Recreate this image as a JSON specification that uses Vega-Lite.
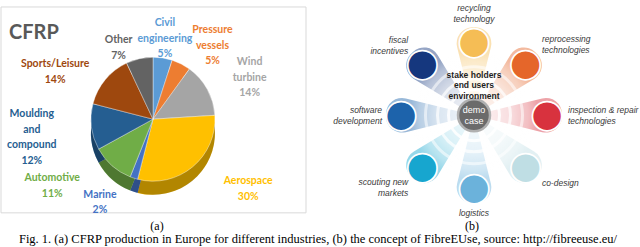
{
  "$schema": "https://vega.github.io/schema/vega-lite/v6.json",
  "width": 640,
  "height": 247,
  "autosize": {"type": "fit", "contains": "padding"},
  "padding": 0,
  "config": {"view": {"stroke": null}},
  "datasets": {
    "pie": [
      {"industry": "Civil engineering", "share": 5, "rank": 1, "lines": ["Civil", "engineering", "5%"]},
      {"industry": "Pressure vessels", "share": 5, "rank": 2, "lines": ["Pressure", "vessels", "5%"]},
      {"industry": "Wind turbine", "share": 14, "rank": 3, "lines": ["Wind", "turbine", "14%"]},
      {"industry": "Aerospace", "share": 30, "rank": 4, "lines": ["Aerospace", "30%"]},
      {"industry": "Marine", "share": 2, "rank": 5, "lines": ["Marine", "2%"]},
      {"industry": "Automotive", "share": 11, "rank": 6, "lines": ["Automotive", "11%"]},
      {"industry": "Moulding and compound", "share": 12, "rank": 7, "lines": ["Moulding", "and", "compound", "12%"]},
      {"industry": "Sports/Leisure", "share": 14, "rank": 8, "lines": ["Sports/Leisure", "14%"]},
      {"industry": "Other", "share": 7, "rank": 9, "lines": ["Other", "7%"]}
    ],
    "fibre": [
      {"item": "recycling technology", "rank": 1, "lines": ["recycling", "technology"]},
      {"item": "reprocessing technologies", "rank": 2, "lines": ["reprocessing", "technologies"]},
      {"item": "inspection & repair technologies", "rank": 3, "lines": ["inspection & repair", "technologies"]},
      {"item": "co-design", "rank": 4, "lines": ["co-design"]},
      {"item": "logistics", "rank": 5, "lines": ["logistics"]},
      {"item": "scouting new markets", "rank": 6, "lines": ["scouting new", "markets"]},
      {"item": "software development", "rank": 7, "lines": ["software", "development"]},
      {"item": "fiscal incentives", "rank": 8, "lines": ["fiscal", "incentives"]}
    ]
  },
  "resolve": {"scale": {"theta": "independent", "color": "independent", "fill": "independent", "stroke": "independent"}},
  "layer": [
    {
      "data": {"values": [{}]},
      "mark": {"type": "rect", "fill": "white", "fillOpacity": 0, "stroke": "#d9d9d9", "strokeWidth": 1},
      "encoding": {
        "x": {"datum": 1, "type": "quantitative", "scale": {"domain": [0, 640], "nice": false, "zero": false}, "axis": null},
        "x2": {"datum": 306},
        "y": {"datum": 1, "type": "quantitative", "scale": {"domain": [0, 247], "nice": false, "zero": false, "reverse": true}, "axis": null},
        "y2": {"datum": 212}
      }
    },
    {
      "data": {"values": [{}]},
      "mark": {"type": "text", "text": "CFRP", "font": "Lato", "fontWeight": "bold", "fontSize": 20, "color": "#595959", "align": "left", "baseline": "middle"},
      "encoding": {
        "x": {"datum": 9, "type": "quantitative", "scale": {"domain": [0, 640], "nice": false, "zero": false}, "axis": null},
        "y": {"datum": 28, "type": "quantitative", "scale": {"domain": [0, 247], "nice": false, "zero": false, "reverse": true}, "axis": null}
      }
    },
    {
      "data": {"name": "pie"},
      "mark": {"type": "arc", "outerRadius": 62},
      "encoding": {
        "x": {"datum": 153, "type": "quantitative", "scale": {"domain": [0, 640], "nice": false, "zero": false}, "axis": null},
        "y": {"datum": 130, "type": "quantitative", "scale": {"domain": [0, 247], "nice": false, "zero": false, "reverse": true}, "axis": null},
        "theta": {"field": "share", "type": "quantitative", "stack": true},
        "order": {"field": "rank", "type": "quantitative"},
        "color": {"field": "industry", "type": "nominal", "legend": null, "scale": {"domain": ["Civil engineering", "Pressure vessels", "Wind turbine", "Aerospace", "Marine", "Automotive", "Moulding and compound", "Sports/Leisure", "Other"], "range": ["#5B9BD5", "#ED7D31", "#A5A5A5", "#FFC000", "#4472C4", "#70AD47", "#255E91", "#9E480E", "#636363"]}}
      }
    },
    {
      "data": {"values": [{}]},
      "mark": {"type": "arc", "outerRadius": 62, "theta": 0, "theta2": 6.2832, "color": "black", "fillOpacity": 0.3},
      "encoding": {
        "x": {"datum": 153, "type": "quantitative", "scale": {"domain": [0, 640], "nice": false, "zero": false}, "axis": null},
        "y": {"datum": 130, "type": "quantitative", "scale": {"domain": [0, 247], "nice": false, "zero": false, "reverse": true}, "axis": null}
      }
    },
    {
      "data": {"name": "pie"},
      "mark": {"type": "arc", "outerRadius": 62, "stroke": "white", "strokeWidth": 0.4},
      "encoding": {
        "x": {"datum": 153, "type": "quantitative", "scale": {"domain": [0, 640], "nice": false, "zero": false}, "axis": null},
        "y": {"datum": 116, "type": "quantitative", "scale": {"domain": [0, 247], "nice": false, "zero": false, "reverse": true}, "axis": null},
        "theta": {"field": "share", "type": "quantitative", "stack": true},
        "order": {"field": "rank", "type": "quantitative"},
        "color": {"field": "industry", "type": "nominal", "legend": null, "scale": {"domain": ["Civil engineering", "Pressure vessels", "Wind turbine", "Aerospace", "Marine", "Automotive", "Moulding and compound", "Sports/Leisure", "Other"], "range": ["#5B9BD5", "#ED7D31", "#A5A5A5", "#FFC000", "#4472C4", "#70AD47", "#255E91", "#9E480E", "#636363"]}}
      }
    },
    {
      "data": {"name": "pie"},
      "mark": {"type": "text", "radius": 76, "dx": 0, "dy": -15, "font": "Lato", "fontWeight": "bold", "fontSize": 10.5, "lineHeight": 15.5, "align": "center", "baseline": "middle"},
      "encoding": {
        "x": {"datum": 153, "type": "quantitative", "scale": {"domain": [0, 640], "nice": false, "zero": false}, "axis": null},
        "y": {"datum": 110, "type": "quantitative", "scale": {"domain": [0, 247], "nice": false, "zero": false, "reverse": true}, "axis": null},
        "theta": {"field": "share", "type": "quantitative", "stack": true},
        "order": {"field": "rank", "type": "quantitative"},
        "color": {"field": "industry", "type": "nominal", "legend": null, "scale": {"domain": ["Civil engineering", "Pressure vessels", "Wind turbine", "Aerospace", "Marine", "Automotive", "Moulding and compound", "Sports/Leisure", "Other"], "range": ["#5B9BD5", "#ED7D31", "#A5A5A5", "#FFC000", "#4472C4", "#70AD47", "#255E91", "#9E480E", "#636363"]}},
        "text": {"condition": {"test": "datum.rank == 1", "field": "lines", "type": "nominal"}, "value": ""}
      }
    },
    {
      "data": {"name": "pie"},
      "mark": {"type": "text", "radius": 76, "dx": 25, "dy": -15.5, "font": "Lato", "fontWeight": "bold", "fontSize": 10.5, "lineHeight": 15.5, "align": "center", "baseline": "middle"},
      "encoding": {
        "x": {"datum": 153, "type": "quantitative", "scale": {"domain": [0, 640], "nice": false, "zero": false}, "axis": null},
        "y": {"datum": 110, "type": "quantitative", "scale": {"domain": [0, 247], "nice": false, "zero": false, "reverse": true}, "axis": null},
        "theta": {"field": "share", "type": "quantitative", "stack": true},
        "order": {"field": "rank", "type": "quantitative"},
        "color": {"field": "industry", "type": "nominal", "legend": null, "scale": {"domain": ["Civil engineering", "Pressure vessels", "Wind turbine", "Aerospace", "Marine", "Automotive", "Moulding and compound", "Sports/Leisure", "Other"], "range": ["#5B9BD5", "#ED7D31", "#A5A5A5", "#FFC000", "#4472C4", "#70AD47", "#255E91", "#9E480E", "#636363"]}},
        "text": {"condition": {"test": "datum.rank == 2", "field": "lines", "type": "nominal"}, "value": ""}
      }
    },
    {
      "data": {"name": "pie"},
      "mark": {"type": "text", "radius": 76, "dx": 30, "dy": -14.5, "font": "Lato", "fontWeight": "bold", "fontSize": 10.5, "lineHeight": 15.5, "align": "center", "baseline": "middle"},
      "encoding": {
        "x": {"datum": 153, "type": "quantitative", "scale": {"domain": [0, 640], "nice": false, "zero": false}, "axis": null},
        "y": {"datum": 110, "type": "quantitative", "scale": {"domain": [0, 247], "nice": false, "zero": false, "reverse": true}, "axis": null},
        "theta": {"field": "share", "type": "quantitative", "stack": true},
        "order": {"field": "rank", "type": "quantitative"},
        "color": {"field": "industry", "type": "nominal", "legend": null, "scale": {"domain": ["Civil engineering", "Pressure vessels", "Wind turbine", "Aerospace", "Marine", "Automotive", "Moulding and compound", "Sports/Leisure", "Other"], "range": ["#5B9BD5", "#ED7D31", "#A5A5A5", "#FFC000", "#4472C4", "#70AD47", "#255E91", "#9E480E", "#636363"]}},
        "text": {"condition": {"test": "datum.rank == 3", "field": "lines", "type": "nominal"}, "value": ""}
      }
    },
    {
      "data": {"name": "pie"},
      "mark": {"type": "text", "radius": 96, "dx": 34, "dy": -6, "font": "Lato", "fontWeight": "bold", "fontSize": 10.5, "lineHeight": 15.5, "align": "center", "baseline": "middle"},
      "encoding": {
        "x": {"datum": 153, "type": "quantitative", "scale": {"domain": [0, 640], "nice": false, "zero": false}, "axis": null},
        "y": {"datum": 110, "type": "quantitative", "scale": {"domain": [0, 247], "nice": false, "zero": false, "reverse": true}, "axis": null},
        "theta": {"field": "share", "type": "quantitative", "stack": true},
        "order": {"field": "rank", "type": "quantitative"},
        "color": {"field": "industry", "type": "nominal", "legend": null, "scale": {"domain": ["Civil engineering", "Pressure vessels", "Wind turbine", "Aerospace", "Marine", "Automotive", "Moulding and compound", "Sports/Leisure", "Other"], "range": ["#5B9BD5", "#ED7D31", "#A5A5A5", "#FFC000", "#4472C4", "#70AD47", "#255E91", "#9E480E", "#636363"]}},
        "text": {"condition": {"test": "datum.rank == 4", "field": "lines", "type": "nominal"}, "value": ""}
      }
    },
    {
      "data": {"name": "pie"},
      "mark": {"type": "text", "radius": 94, "dx": -24, "dy": -8, "font": "Lato", "fontWeight": "bold", "fontSize": 10.5, "lineHeight": 15.5, "align": "center", "baseline": "middle"},
      "encoding": {
        "x": {"datum": 153, "type": "quantitative", "scale": {"domain": [0, 640], "nice": false, "zero": false}, "axis": null},
        "y": {"datum": 110, "type": "quantitative", "scale": {"domain": [0, 247], "nice": false, "zero": false, "reverse": true}, "axis": null},
        "theta": {"field": "share", "type": "quantitative", "stack": true},
        "order": {"field": "rank", "type": "quantitative"},
        "color": {"field": "industry", "type": "nominal", "legend": null, "scale": {"domain": ["Civil engineering", "Pressure vessels", "Wind turbine", "Aerospace", "Marine", "Automotive", "Moulding and compound", "Sports/Leisure", "Other"], "range": ["#5B9BD5", "#ED7D31", "#A5A5A5", "#FFC000", "#4472C4", "#70AD47", "#255E91", "#9E480E", "#636363"]}},
        "text": {"condition": {"test": "datum.rank == 5", "field": "lines", "type": "nominal"}, "value": ""}
      }
    },
    {
      "data": {"name": "pie"},
      "mark": {"type": "text", "radius": 98, "dx": -36, "dy": -8.5, "font": "Lato", "fontWeight": "bold", "fontSize": 10.5, "lineHeight": 15.5, "align": "center", "baseline": "middle"},
      "encoding": {
        "x": {"datum": 153, "type": "quantitative", "scale": {"domain": [0, 640], "nice": false, "zero": false}, "axis": null},
        "y": {"datum": 110, "type": "quantitative", "scale": {"domain": [0, 247], "nice": false, "zero": false, "reverse": true}, "axis": null},
        "theta": {"field": "share", "type": "quantitative", "stack": true},
        "order": {"field": "rank", "type": "quantitative"},
        "color": {"field": "industry", "type": "nominal", "legend": null, "scale": {"domain": ["Civil engineering", "Pressure vessels", "Wind turbine", "Aerospace", "Marine", "Automotive", "Moulding and compound", "Sports/Leisure", "Other"], "range": ["#5B9BD5", "#ED7D31", "#A5A5A5", "#FFC000", "#4472C4", "#70AD47", "#255E91", "#9E480E", "#636363"]}},
        "text": {"condition": {"test": "datum.rank == 6", "field": "lines", "type": "nominal"}, "value": ""}
      }
    },
    {
      "data": {"name": "pie"},
      "mark": {"type": "text", "radius": 100, "dx": -22, "dy": -11.5, "font": "Lato", "fontWeight": "bold", "fontSize": 10.5, "lineHeight": 15.5, "align": "center", "baseline": "middle"},
      "encoding": {
        "x": {"datum": 153, "type": "quantitative", "scale": {"domain": [0, 640], "nice": false, "zero": false}, "axis": null},
        "y": {"datum": 110, "type": "quantitative", "scale": {"domain": [0, 247], "nice": false, "zero": false, "reverse": true}, "axis": null},
        "theta": {"field": "share", "type": "quantitative", "stack": true},
        "order": {"field": "rank", "type": "quantitative"},
        "color": {"field": "industry", "type": "nominal", "legend": null, "scale": {"domain": ["Civil engineering", "Pressure vessels", "Wind turbine", "Aerospace", "Marine", "Automotive", "Moulding and compound", "Sports/Leisure", "Other"], "range": ["#5B9BD5", "#ED7D31", "#A5A5A5", "#FFC000", "#4472C4", "#70AD47", "#255E91", "#9E480E", "#636363"]}},
        "text": {"condition": {"test": "datum.rank == 7", "field": "lines", "type": "nominal"}, "value": ""}
      }
    },
    {
      "data": {"name": "pie"},
      "mark": {"type": "text", "radius": 66, "dx": -47, "dy": -7, "font": "Lato", "fontWeight": "bold", "fontSize": 10.5, "lineHeight": 15.5, "align": "center", "baseline": "middle"},
      "encoding": {
        "x": {"datum": 153, "type": "quantitative", "scale": {"domain": [0, 640], "nice": false, "zero": false}, "axis": null},
        "y": {"datum": 110, "type": "quantitative", "scale": {"domain": [0, 247], "nice": false, "zero": false, "reverse": true}, "axis": null},
        "theta": {"field": "share", "type": "quantitative", "stack": true},
        "order": {"field": "rank", "type": "quantitative"},
        "color": {"field": "industry", "type": "nominal", "legend": null, "scale": {"domain": ["Civil engineering", "Pressure vessels", "Wind turbine", "Aerospace", "Marine", "Automotive", "Moulding and compound", "Sports/Leisure", "Other"], "range": ["#5B9BD5", "#ED7D31", "#A5A5A5", "#FFC000", "#4472C4", "#70AD47", "#255E91", "#9E480E", "#636363"]}},
        "text": {"condition": {"test": "datum.rank == 8", "field": "lines", "type": "nominal"}, "value": ""}
      }
    },
    {
      "data": {"name": "pie"},
      "mark": {"type": "text", "radius": 66, "dx": -20, "dy": -8.5, "font": "Lato", "fontWeight": "bold", "fontSize": 10.5, "lineHeight": 15.5, "align": "center", "baseline": "middle"},
      "encoding": {
        "x": {"datum": 153, "type": "quantitative", "scale": {"domain": [0, 640], "nice": false, "zero": false}, "axis": null},
        "y": {"datum": 110, "type": "quantitative", "scale": {"domain": [0, 247], "nice": false, "zero": false, "reverse": true}, "axis": null},
        "theta": {"field": "share", "type": "quantitative", "stack": true},
        "order": {"field": "rank", "type": "quantitative"},
        "color": {"field": "industry", "type": "nominal", "legend": null, "scale": {"domain": ["Civil engineering", "Pressure vessels", "Wind turbine", "Aerospace", "Marine", "Automotive", "Moulding and compound", "Sports/Leisure", "Other"], "range": ["#5B9BD5", "#ED7D31", "#A5A5A5", "#FFC000", "#4472C4", "#70AD47", "#255E91", "#9E480E", "#636363"]}},
        "text": {"condition": {"test": "datum.rank == 9", "field": "lines", "type": "nominal"}, "value": ""}
      }
    },
    {
      "data": {"name": "fibre"},
      "mark": {"type": "arc", "outerRadius": 88, "innerRadius": 0, "padAngle": 0.3, "cornerRadius": 16, "fillOpacity": 0.45},
      "encoding": {
        "x": {"datum": 474, "type": "quantitative", "scale": {"domain": [0, 640], "nice": false, "zero": false}, "axis": null},
        "y": {"datum": 112, "type": "quantitative", "scale": {"domain": [0, 247], "nice": false, "zero": false, "reverse": true}, "axis": null},
        "theta": {"aggregate": "count", "type": "quantitative", "stack": true, "scale": {"range": [-0.3927, 5.8905]}},
        "order": {"field": "rank", "type": "quantitative"},
        "color": {"field": "item", "type": "nominal", "legend": null, "scale": {"domain": ["recycling technology", "reprocessing technologies", "inspection & repair technologies", "co-design", "logistics", "scouting new markets", "software development", "fiscal incentives"], "range": ["#F5BD55", "#E5662A", "#D8323E", "#BFDEE4", "#6BB2DB", "#17A6CF", "#1D63AB", "#15377E"]}}
      }
    },
    {
      "data": {"values": [{}]},
      "mark": {"type": "arc", "outerRadius": 64, "theta": 0, "theta2": 6.2832, "fill": {"gradient": "radial", "stops": [{"offset": 0, "color": "rgba(255,255,255,0.9)"}, {"offset": 0.55, "color": "rgba(255,255,255,0.65)"}, {"offset": 0.85, "color": "rgba(255,255,255,0.3)"}, {"offset": 1, "color": "rgba(255,255,255,0)"}]}},
      "encoding": {
        "x": {"datum": 474, "type": "quantitative", "scale": {"domain": [0, 640], "nice": false, "zero": false}, "axis": null},
        "y": {"datum": 112, "type": "quantitative", "scale": {"domain": [0, 247], "nice": false, "zero": false, "reverse": true}, "axis": null}
      }
    },
    {
      "data": {"values": [{}]},
      "mark": {"type": "arc", "innerRadius": 24, "outerRadius": 27, "theta": 0, "theta2": 6.2832, "color": "white", "fillOpacity": 0.85},
      "encoding": {
        "x": {"datum": 474, "type": "quantitative", "scale": {"domain": [0, 640], "nice": false, "zero": false}, "axis": null},
        "y": {"datum": 112, "type": "quantitative", "scale": {"domain": [0, 247], "nice": false, "zero": false, "reverse": true}, "axis": null}
      }
    },
    {
      "data": {"values": [{}]},
      "mark": {"type": "arc", "innerRadius": 35, "outerRadius": 38, "theta": 0, "theta2": 6.2832, "color": "white", "fillOpacity": 0.7},
      "encoding": {
        "x": {"datum": 474, "type": "quantitative", "scale": {"domain": [0, 640], "nice": false, "zero": false}, "axis": null},
        "y": {"datum": 112, "type": "quantitative", "scale": {"domain": [0, 247], "nice": false, "zero": false, "reverse": true}, "axis": null}
      }
    },
    {
      "data": {"values": [{}]},
      "mark": {"type": "arc", "innerRadius": 47, "outerRadius": 50, "theta": 0, "theta2": 6.2832, "color": "white", "fillOpacity": 0.55},
      "encoding": {
        "x": {"datum": 474, "type": "quantitative", "scale": {"domain": [0, 640], "nice": false, "zero": false}, "axis": null},
        "y": {"datum": 112, "type": "quantitative", "scale": {"domain": [0, 247], "nice": false, "zero": false, "reverse": true}, "axis": null}
      }
    },
    {
      "data": {"name": "fibre"},
      "mark": {"type": "text", "text": "●", "radius": 73, "font": "DejaVu Sans", "fontSize": 26, "align": "center", "baseline": "middle", "fill": "white", "stroke": "white", "strokeWidth": 11},
      "encoding": {
        "x": {"datum": 474, "type": "quantitative", "scale": {"domain": [0, 640], "nice": false, "zero": false}, "axis": null},
        "y": {"datum": 112, "type": "quantitative", "scale": {"domain": [0, 247], "nice": false, "zero": false, "reverse": true}, "axis": null},
        "theta": {"aggregate": "count", "type": "quantitative", "stack": true, "scale": {"range": [-0.3927, 5.8905]}},
        "order": {"field": "rank", "type": "quantitative"}
      }
    },
    {
      "data": {"name": "fibre"},
      "mark": {"type": "text", "text": "●", "radius": 73, "font": "DejaVu Sans", "fontSize": 26, "align": "center", "baseline": "middle", "strokeWidth": 7.5},
      "encoding": {
        "x": {"datum": 474, "type": "quantitative", "scale": {"domain": [0, 640], "nice": false, "zero": false}, "axis": null},
        "y": {"datum": 112, "type": "quantitative", "scale": {"domain": [0, 247], "nice": false, "zero": false, "reverse": true}, "axis": null},
        "theta": {"aggregate": "count", "type": "quantitative", "stack": true, "scale": {"range": [-0.3927, 5.8905]}},
        "order": {"field": "rank", "type": "quantitative"},
        "fill": {"field": "item", "type": "nominal", "legend": null, "scale": {"domain": ["recycling technology", "reprocessing technologies", "inspection & repair technologies", "co-design", "logistics", "scouting new markets", "software development", "fiscal incentives"], "range": ["#F5BD55", "#E5662A", "#D8323E", "#BFDEE4", "#6BB2DB", "#17A6CF", "#1D63AB", "#15377E"]}},
        "stroke": {"field": "item", "type": "nominal", "legend": null, "scale": {"domain": ["recycling technology", "reprocessing technologies", "inspection & repair technologies", "co-design", "logistics", "scouting new markets", "software development", "fiscal incentives"], "range": ["#F5BD55", "#E5662A", "#D8323E", "#BFDEE4", "#6BB2DB", "#17A6CF", "#1D63AB", "#15377E"]}}
      }
    },
    {
      "data": {"values": [{}]},
      "mark": {"type": "arc", "outerRadius": 16, "theta": 0, "theta2": 6.2832, "color": "#6b6b6b", "stroke": "#b0b0b0", "strokeWidth": 2.5},
      "encoding": {
        "x": {"datum": 474, "type": "quantitative", "scale": {"domain": [0, 640], "nice": false, "zero": false}, "axis": null},
        "y": {"datum": 112, "type": "quantitative", "scale": {"domain": [0, 247], "nice": false, "zero": false, "reverse": true}, "axis": null}
      }
    },
    {
      "data": {"values": [{}]},
      "mark": {"type": "text", "text": ["demo", "case"], "font": "Liberation Sans", "fontSize": 9, "lineHeight": 10.5, "color": "white", "align": "center", "baseline": "middle"},
      "encoding": {
        "x": {"datum": 474, "type": "quantitative", "scale": {"domain": [0, 640], "nice": false, "zero": false}, "axis": null},
        "y": {"datum": 107, "type": "quantitative", "scale": {"domain": [0, 247], "nice": false, "zero": false, "reverse": true}, "axis": null}
      }
    },
    {
      "data": {"values": [{}]},
      "mark": {"type": "text", "text": "stake holders", "font": "Liberation Sans", "fontWeight": "bold", "fontSize": 8.5, "color": "#1e1e1e", "align": "center", "baseline": "middle"},
      "encoding": {
        "x": {"datum": 474, "type": "quantitative", "scale": {"domain": [0, 640], "nice": false, "zero": false}, "axis": null},
        "y": {"datum": 71, "type": "quantitative", "scale": {"domain": [0, 247], "nice": false, "zero": false, "reverse": true}, "axis": null}
      }
    },
    {
      "data": {"values": [{}]},
      "mark": {"type": "text", "text": "end users", "font": "Liberation Sans", "fontWeight": "bold", "fontSize": 8.5, "color": "#1e1e1e", "align": "center", "baseline": "middle"},
      "encoding": {
        "x": {"datum": 474, "type": "quantitative", "scale": {"domain": [0, 640], "nice": false, "zero": false}, "axis": null},
        "y": {"datum": 81, "type": "quantitative", "scale": {"domain": [0, 247], "nice": false, "zero": false, "reverse": true}, "axis": null}
      }
    },
    {
      "data": {"values": [{}]},
      "mark": {"type": "text", "text": "environment", "font": "Liberation Sans", "fontWeight": "bold", "fontSize": 8.5, "color": "#1e1e1e", "align": "center", "baseline": "middle"},
      "encoding": {
        "x": {"datum": 474, "type": "quantitative", "scale": {"domain": [0, 640], "nice": false, "zero": false}, "axis": null},
        "y": {"datum": 92, "type": "quantitative", "scale": {"domain": [0, 247], "nice": false, "zero": false, "reverse": true}, "axis": null}
      }
    },
    {
      "data": {"name": "fibre"},
      "mark": {"type": "text", "radius": 100, "dy": -7, "font": "Liberation Sans", "fontStyle": "italic", "fontSize": 8.5, "lineHeight": 10.5, "color": "#3a3a3a", "align": "center", "baseline": "middle"},
      "encoding": {
        "x": {"datum": 474, "type": "quantitative", "scale": {"domain": [0, 640], "nice": false, "zero": false}, "axis": null},
        "y": {"datum": 112, "type": "quantitative", "scale": {"domain": [0, 247], "nice": false, "zero": false, "reverse": true}, "axis": null},
        "theta": {"aggregate": "count", "type": "quantitative", "stack": true, "scale": {"range": [-0.3927, 5.8905]}},
        "order": {"field": "rank", "type": "quantitative"},
        "text": {"condition": {"test": "datum.rank == 1", "field": "lines", "type": "nominal"}, "value": ""}
      }
    },
    {
      "data": {"name": "fibre"},
      "mark": {"type": "text", "radius": 96, "dy": -8, "font": "Liberation Sans", "fontStyle": "italic", "fontSize": 8.5, "lineHeight": 10.5, "color": "#3a3a3a", "align": "left", "baseline": "middle"},
      "encoding": {
        "x": {"datum": 474, "type": "quantitative", "scale": {"domain": [0, 640], "nice": false, "zero": false}, "axis": null},
        "y": {"datum": 112, "type": "quantitative", "scale": {"domain": [0, 247], "nice": false, "zero": false, "reverse": true}, "axis": null},
        "theta": {"aggregate": "count", "type": "quantitative", "stack": true, "scale": {"range": [-0.3927, 5.8905]}},
        "order": {"field": "rank", "type": "quantitative"},
        "text": {"condition": {"test": "datum.rank == 2", "field": "lines", "type": "nominal"}, "value": ""}
      }
    },
    {
      "data": {"name": "fibre"},
      "mark": {"type": "text", "radius": 94, "dy": -5.25, "font": "Liberation Sans", "fontStyle": "italic", "fontSize": 8.5, "lineHeight": 10.5, "color": "#3a3a3a", "align": "left", "baseline": "middle"},
      "encoding": {
        "x": {"datum": 474, "type": "quantitative", "scale": {"domain": [0, 640], "nice": false, "zero": false}, "axis": null},
        "y": {"datum": 112, "type": "quantitative", "scale": {"domain": [0, 247], "nice": false, "zero": false, "reverse": true}, "axis": null},
        "theta": {"aggregate": "count", "type": "quantitative", "stack": true, "scale": {"range": [-0.3927, 5.8905]}},
        "order": {"field": "rank", "type": "quantitative"},
        "text": {"condition": {"test": "datum.rank == 3", "field": "lines", "type": "nominal"}, "value": ""}
      }
    },
    {
      "data": {"name": "fibre"},
      "mark": {"type": "text", "radius": 96, "dy": 0, "font": "Liberation Sans", "fontStyle": "italic", "fontSize": 8.5, "lineHeight": 10.5, "color": "#3a3a3a", "align": "left", "baseline": "middle"},
      "encoding": {
        "x": {"datum": 474, "type": "quantitative", "scale": {"domain": [0, 640], "nice": false, "zero": false}, "axis": null},
        "y": {"datum": 112, "type": "quantitative", "scale": {"domain": [0, 247], "nice": false, "zero": false, "reverse": true}, "axis": null},
        "theta": {"aggregate": "count", "type": "quantitative", "stack": true, "scale": {"range": [-0.3927, 5.8905]}},
        "order": {"field": "rank", "type": "quantitative"},
        "text": {"condition": {"test": "datum.rank == 4", "field": "lines", "type": "nominal"}, "value": ""}
      }
    },
    {
      "data": {"name": "fibre"},
      "mark": {"type": "text", "radius": 98, "dy": 0, "font": "Liberation Sans", "fontStyle": "italic", "fontSize": 8.5, "lineHeight": 10.5, "color": "#3a3a3a", "align": "center", "baseline": "middle"},
      "encoding": {
        "x": {"datum": 474, "type": "quantitative", "scale": {"domain": [0, 640], "nice": false, "zero": false}, "axis": null},
        "y": {"datum": 112, "type": "quantitative", "scale": {"domain": [0, 247], "nice": false, "zero": false, "reverse": true}, "axis": null},
        "theta": {"aggregate": "count", "type": "quantitative", "stack": true, "scale": {"range": [-0.3927, 5.8905]}},
        "order": {"field": "rank", "type": "quantitative"},
        "text": {"condition": {"test": "datum.rank == 5", "field": "lines", "type": "nominal"}, "value": ""}
      }
    },
    {
      "data": {"name": "fibre"},
      "mark": {"type": "text", "radius": 93, "dy": 1, "font": "Liberation Sans", "fontStyle": "italic", "fontSize": 8.5, "lineHeight": 10.5, "color": "#3a3a3a", "align": "right", "baseline": "middle"},
      "encoding": {
        "x": {"datum": 474, "type": "quantitative", "scale": {"domain": [0, 640], "nice": false, "zero": false}, "axis": null},
        "y": {"datum": 112, "type": "quantitative", "scale": {"domain": [0, 247], "nice": false, "zero": false, "reverse": true}, "axis": null},
        "theta": {"aggregate": "count", "type": "quantitative", "stack": true, "scale": {"range": [-0.3927, 5.8905]}},
        "order": {"field": "rank", "type": "quantitative"},
        "text": {"condition": {"test": "datum.rank == 6", "field": "lines", "type": "nominal"}, "value": ""}
      }
    },
    {
      "data": {"name": "fibre"},
      "mark": {"type": "text", "radius": 92, "dy": -5.25, "font": "Liberation Sans", "fontStyle": "italic", "fontSize": 8.5, "lineHeight": 10.5, "color": "#3a3a3a", "align": "right", "baseline": "middle"},
      "encoding": {
        "x": {"datum": 474, "type": "quantitative", "scale": {"domain": [0, 640], "nice": false, "zero": false}, "axis": null},
        "y": {"datum": 112, "type": "quantitative", "scale": {"domain": [0, 247], "nice": false, "zero": false, "reverse": true}, "axis": null},
        "theta": {"aggregate": "count", "type": "quantitative", "stack": true, "scale": {"range": [-0.3927, 5.8905]}},
        "order": {"field": "rank", "type": "quantitative"},
        "text": {"condition": {"test": "datum.rank == 7", "field": "lines", "type": "nominal"}, "value": ""}
      }
    },
    {
      "data": {"name": "fibre"},
      "mark": {"type": "text", "radius": 93, "dy": -9.5, "font": "Liberation Sans", "fontStyle": "italic", "fontSize": 8.5, "lineHeight": 10.5, "color": "#3a3a3a", "align": "right", "baseline": "middle"},
      "encoding": {
        "x": {"datum": 474, "type": "quantitative", "scale": {"domain": [0, 640], "nice": false, "zero": false}, "axis": null},
        "y": {"datum": 112, "type": "quantitative", "scale": {"domain": [0, 247], "nice": false, "zero": false, "reverse": true}, "axis": null},
        "theta": {"aggregate": "count", "type": "quantitative", "stack": true, "scale": {"range": [-0.3927, 5.8905]}},
        "order": {"field": "rank", "type": "quantitative"},
        "text": {"condition": {"test": "datum.rank == 8", "field": "lines", "type": "nominal"}, "value": ""}
      }
    },
    {
      "data": {"values": [{}]},
      "mark": {"type": "text", "text": "(a)", "font": "Liberation Serif", "fontSize": 12, "color": "black", "align": "center", "baseline": "middle"},
      "encoding": {
        "x": {"datum": 157, "type": "quantitative", "scale": {"domain": [0, 640], "nice": false, "zero": false}, "axis": null},
        "y": {"datum": 225, "type": "quantitative", "scale": {"domain": [0, 247], "nice": false, "zero": false, "reverse": true}, "axis": null}
      }
    },
    {
      "data": {"values": [{}]},
      "mark": {"type": "text", "text": "(b)", "font": "Liberation Serif", "fontSize": 12, "color": "black", "align": "center", "baseline": "middle"},
      "encoding": {
        "x": {"datum": 472, "type": "quantitative", "scale": {"domain": [0, 640], "nice": false, "zero": false}, "axis": null},
        "y": {"datum": 225, "type": "quantitative", "scale": {"domain": [0, 247], "nice": false, "zero": false, "reverse": true}, "axis": null}
      }
    },
    {
      "data": {"values": [{}]},
      "mark": {"type": "text", "text": "Fig. 1. (a) CFRP production in Europe for different industries, (b) the concept of FibreEUse, source: http://fibreeuse.eu/", "font": "Liberation Serif", "fontSize": 12.5, "color": "black", "align": "center", "baseline": "middle"},
      "encoding": {
        "x": {"datum": 318, "type": "quantitative", "scale": {"domain": [0, 640], "nice": false, "zero": false}, "axis": null},
        "y": {"datum": 239, "type": "quantitative", "scale": {"domain": [0, 247], "nice": false, "zero": false, "reverse": true}, "axis": null}
      }
    }
  ]
}
